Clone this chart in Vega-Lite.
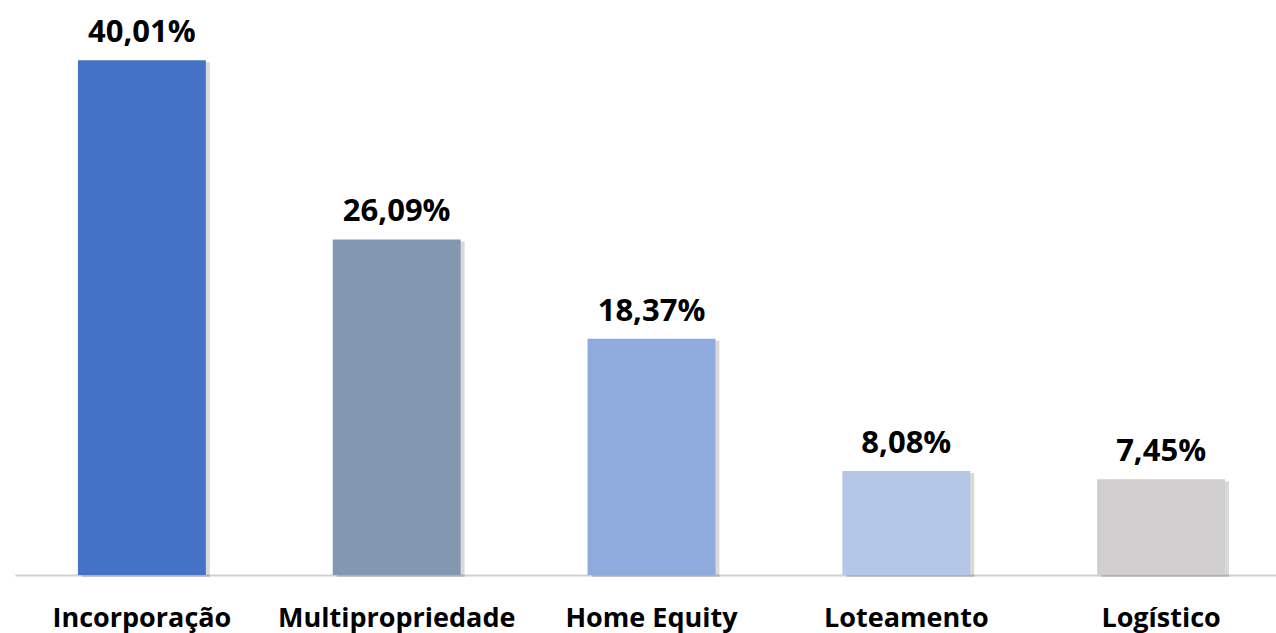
{
  "$schema": "https://vega.github.io/schema/vega-lite/v6.json",
  "width": 1273,
  "height": 566,
  "autosize": {"type": "none"},
  "padding": {"left": 15, "top": 9, "right": 0, "bottom": 58},
  "background": "white",
  "config": {"view": {"stroke": null}, "font": "Open Sans"},
  "data": {"values": [
    {"cat": "Incorporação", "value": 40.01, "label": "40,01%"},
    {"cat": "Multipropriedade", "value": 26.09, "label": "26,09%"},
    {"cat": "Home Equity", "value": 18.37, "label": "18,37%"},
    {"cat": "Loteamento", "value": 8.08, "label": "8,08%"},
    {"cat": "Logístico", "value": 7.45, "label": "7,45%"}
  ]},
  "encoding": {
    "x": {"field": "cat", "type": "nominal", "sort": null,
      "scale": {"paddingInner": 0.498, "paddingOuter": 0.247},
      "axis": {"title": null, "domainColor": "#d0d0d0", "domainWidth": 2, "ticks": false,
        "labelAngle": 0, "labelFont": "Open Sans", "labelFontWeight": "bold", "labelFontSize": 27,
        "labelColor": "#000000", "labelPadding": 30, "labelLimit": 0}},
    "y": {"field": "value", "type": "quantitative", "scale": {"domain": [0, 44], "nice": false},
      "axis": null}
  },
  "layer": [
    {"mark": {"type": "bar", "color": "#000000", "opacity": 0.15, "xOffset": 4, "yOffset": 2}},
    {"mark": {"type": "bar"},
      "encoding": {"color": {"field": "cat", "type": "nominal", "legend": null,
        "scale": {"domain": ["Incorporação", "Multipropriedade", "Home Equity", "Loteamento", "Logístico"],
          "range": ["#4472C4", "#8497B0", "#8FAADC", "#B4C7E7", "#D0CECE"]}}}},
    {"mark": {"type": "text", "baseline": "alphabetic", "dy": -18, "font": "Open Sans", "fontWeight": "bold", "fontSize": 31, "color": "#000000"},
      "encoding": {"text": {"field": "label"}}}
  ]
}
